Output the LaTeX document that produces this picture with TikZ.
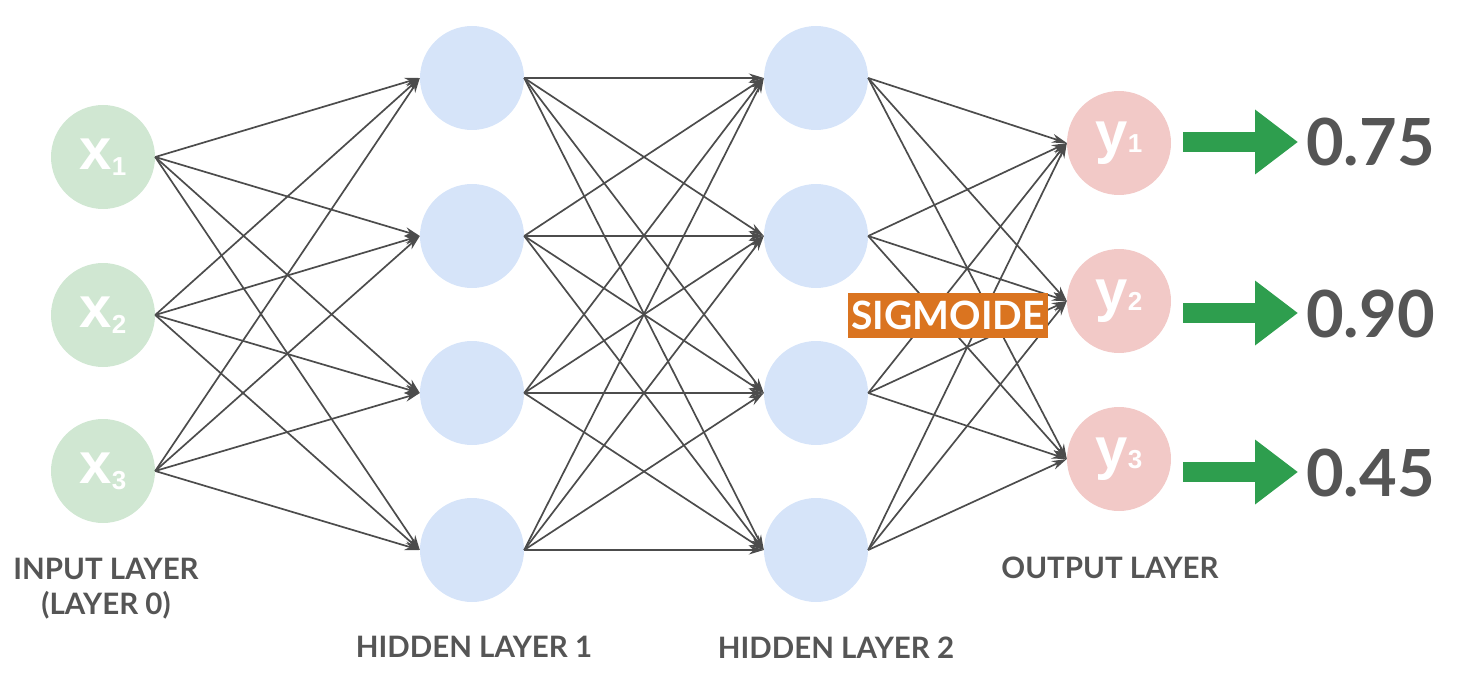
\documentclass[tikz,border=0pt]{standalone}
\usepackage{fontspec}
\setmainfont{Lato}
\newfontfamily\arialfont{Liberation Sans Bold}
\usetikzlibrary{arrows.meta}
\definecolor{ingreen}{HTML}{D0E7D2}
\definecolor{hidblue}{HTML}{D6E4F9}
\definecolor{outpink}{HTML}{F2C9C7}
\definecolor{txtgray}{HTML}{555555}
\definecolor{arrgreen}{HTML}{2E9E4E}
\definecolor{sigorange}{HTML}{DA7420}
\newcommand\neurlab[3]{{\arialfont\fontsize{58}{58}\selectfont #1}\raisebox{#3}{\arialfont\fontsize{26}{26}\selectfont #2}}
\begin{document}
\begin{tikzpicture}[x=1pt,y=-1pt,
  neuron/.style={circle, minimum size=104pt, inner sep=0pt, text=white},
  inneuron/.style={neuron, fill=ingreen},
  hidneuron/.style={neuron, fill=hidblue},
  outneuron/.style={neuron, fill=outpink},
  edge/.style={draw=black!70, line width=1.7pt, -{Stealth[length=15pt,width=9pt]}},
  bigarrow/.style={draw=arrgreen, line width=20pt, -{Triangle[length=43pt,width=62pt]}},
  lab/.style={text=txtgray, font=\bfseries\fontsize{29.5}{29.5}\selectfont, inner sep=0pt, anchor=base},
  num/.style={text=txtgray, font=\bfseries\fontsize{65}{65}\selectfont, inner sep=0pt, anchor=west},
]
\useasboundingbox (0,0) rectangle (1468,674);

% input layer
\node[inneuron] (x1) at (103,157) {\neurlab{x}{1}{-6pt}};
\node[inneuron] (x2) at (103,315) {\neurlab{x}{2}{-6pt}};
\node[inneuron] (x3) at (103,471) {\neurlab{x}{3}{-6pt}};

% hidden layer 1
\node[hidneuron] (h1) at (472,78) {};
\node[hidneuron] (h2) at (472,236) {};
\node[hidneuron] (h3) at (472,393) {};
\node[hidneuron] (h4) at (472,550) {};

% hidden layer 2
\node[hidneuron] (g1) at (816,78) {};
\node[hidneuron] (g2) at (816,236) {};
\node[hidneuron] (g3) at (816,393) {};
\node[hidneuron] (g4) at (816,550) {};

% output layer
\node[outneuron] (y1) at (1119,143) {\neurlab{y}{1}{0pt}};
\node[outneuron] (y2) at (1119,301) {\neurlab{y}{2}{0pt}};
\node[outneuron] (y3) at (1119,459) {\neurlab{y}{3}{0pt}};

% connections
\foreach \i in {1,2,3}
  \foreach \j in {1,2,3,4}
    \draw[edge] (x\i.east) -- (h\j.west);
\foreach \i in {1,2,3,4}
  \foreach \j in {1,2,3,4}
    \draw[edge] (h\i.east) -- (g\j.west);
\foreach \i in {1,2,3,4}
  \foreach \j in {1,2,3}
    \draw[edge] (g\i.east) -- (y\j.west);

% sigmoid label
\node[fill=sigorange, text=white, minimum width=200pt, minimum height=45pt, inner sep=0pt,
      font=\bfseries\fontsize{39}{39}\selectfont] (sig) at (948,315.5) {SIGMOIDE};

% output values
\node[num] (v1) at (1306,142) {0.75};
\node[num] (v2) at (1306,314) {0.90};
\node[num] (v3) at (1306,473) {0.45};
\coordinate (a1s) at (1183,142);
\coordinate (a1e) at (1298,142);
\coordinate (a2s) at (1183,313);
\coordinate (a2e) at (1298,313);
\coordinate (a3s) at (1183,472);
\coordinate (a3e) at (1298,472);
\draw[bigarrow] (a1s) -- (a1e);
\draw[bigarrow] (a2s) -- (a2e);
\draw[bigarrow] (a3s) -- (a3e);

% layer labels
\node[lab] (lin) at (106,579) {INPUT LAYER};
\node[lab] (lin0) at (106,614) {(LAYER 0)};
\node[lab] (lh1) at (474,657) {HIDDEN LAYER 1};
\node[lab] (lh2) at (836,658) {HIDDEN LAYER 2};
\node[lab] (lout) at (1110,578) {OUTPUT LAYER};
\end{tikzpicture}
\end{document}
